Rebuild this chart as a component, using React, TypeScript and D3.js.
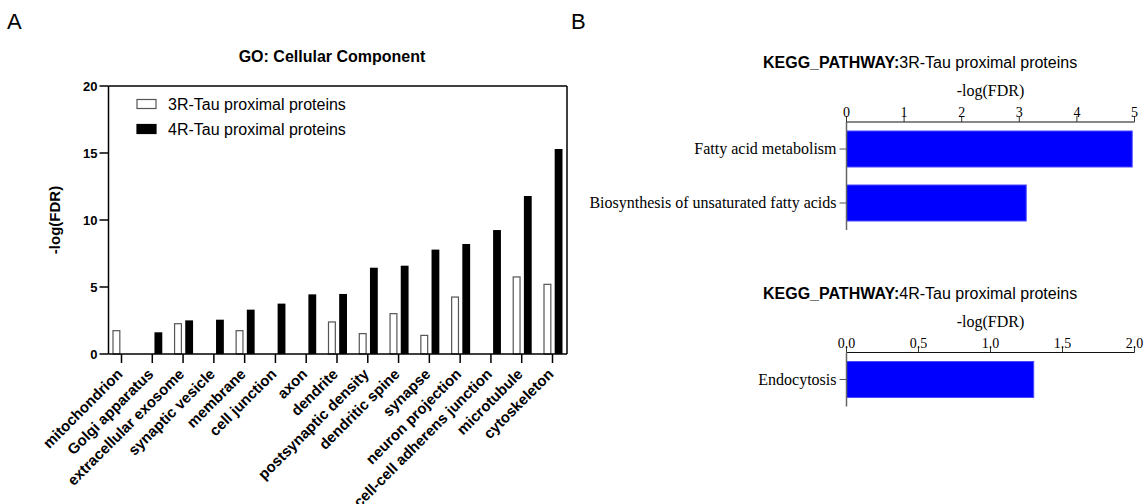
import React from "react";
import * as d3 from "d3";

const categories = [
  "mitochondrion",
  "Golgi apparatus",
  "extracellular exosome",
  "synaptic vesicle",
  "membrane",
  "cell junction",
  "axon",
  "dendrite",
  "postsynaptic density",
  "dendritic spine",
  "synapse",
  "neuron projection",
  "cell-cell adherens junction",
  "microtubule",
  "cytoskeleton",
];
const values3R: (number | null)[] = [1.74, null, 2.26, null, 1.74, null, null, 2.39, 1.52, 3.01, 1.39, 4.25, null, 5.75, 5.2];
const values4R: (number | null)[] = [null, 1.62, 2.51, 2.56, 3.31, 3.76, 4.45, 4.48, 6.44, 6.59, 7.79, 8.21, 9.25, 11.79, 15.3];
const seriesNames = ["3R-Tau proximal proteins", "4R-Tau proximal proteins"];
const goTicks = [0, 5, 10, 15, 20];

const kegg3RTerms = ["Fatty acid metabolism", "Biosynthesis of unsaturated fatty acids"];
const kegg3RValues = [4.96, 3.12];
const kegg3RTicks = [0, 1, 2, 3, 4, 5];
const kegg4RTerms = ["Endocytosis"];
const kegg4RValues = [1.3];
const kegg4RTicks = [0, 0.5, 1.0, 1.5, 2.0];

const SANS = "'Liberation Sans', Arial, Helvetica, sans-serif";
const SERIF = "'Liberation Serif', 'Times New Roman', Times, serif";

function KeggPanel({
  top,
  terms,
  values,
  ticks,
  domainMax,
  fmt,
  subtitle,
}: {
  top: number;
  terms: string[];
  values: number[];
  ticks: number[];
  domainMax: number;
  fmt: (v: number) => string;
  subtitle: string;
}) {
  const x = d3.scaleLinear().domain([0, domainMax]).range([846.5, 1134.5]);
  const step = 54;
  const pi = 1 / 3;
  const po = 1 / 6;
  const len = step * (terms.length - pi + 2 * po);
  const y = d3
    .scaleBand<string>()
    .domain(terms)
    .range([top, top + len])
    .paddingInner(pi)
    .paddingOuter(po);
  return (
    <g>
      <text x={763} y={top - 54} fontFamily={SANS} fontSize={16} fill="#000">
        <tspan fontWeight="bold">KEGG_PATHWAY:</tspan>
        <tspan>{subtitle}</tspan>
      </text>
      <text x={(x.range()[0] + x.range()[1]) / 2} y={top - 26} textAnchor="middle" fontFamily={SERIF} fontSize={16}>
        -log(FDR)
      </text>
      {values.map((v, i) => (
        <rect
          key={i}
          x={x(0)}
          y={y(terms[i])!}
          width={x(v) - x(0)}
          height={y.bandwidth()}
          fill="#0000ff"
          stroke="#4848ff"
          strokeWidth={1}
        />
      ))}
      <line x1={x.range()[0]} x2={x.range()[1]} y1={top} y2={top} stroke="#111" strokeWidth={1.2} />
      {ticks.map((t) => (
        <g key={t}>
          <line x1={x(t)} x2={x(t)} y1={top} y2={top - 6} stroke="#333" strokeWidth={1} />
          <text x={x(t)} y={top - 5} textAnchor="middle" fontFamily={SERIF} fontSize={14} fill="#000">
            {fmt(t)}
          </text>
        </g>
      ))}
      <line x1={x(0)} x2={x(0)} y1={top} y2={top + len} stroke="#666" strokeWidth={1.5} />
      {terms.map((t) => {
        const cy = y(t)! + y.bandwidth() / 2;
        return (
          <g key={t}>
            <line x1={x(0) - 7} x2={x(0)} y1={cy} y2={cy} stroke="#555" strokeWidth={1} />
            <text x={x(0) - 10} y={cy + 5} textAnchor="end" fontFamily={SERIF} fontSize={16} fill="#000">
              {t}
            </text>
          </g>
        );
      })}
    </g>
  );
}

export default function App() {
  const W = 1147;
  const H = 504;
  const left = 108.5;
  const right = 567;
  const topA = 86;
  const bottomA = 354;
  const yA = d3.scaleLinear().domain([0, 20]).range([bottomA, topA]);
  const xA = d3.scalePoint<string>().domain(categories).range([121.5, 552.5]);
  const sub = d3.scaleBand<string>().domain(["3R", "4R"]).range([-9, 10]).paddingInner(0.3);

  return (
    <svg width={W} height={H} style={{ position: "absolute", left: 0, top: 0, background: "#fff" }}>
      <rect width={W} height={H} fill="#fff" />
      <text x={7} y={29} fontFamily={SANS} fontSize={22} fill="#000">A</text>
      <text x={571} y={29} fontFamily={SANS} fontSize={22} fill="#000">B</text>

      {/* Panel A */}
      <text x={332} y={62} textAnchor="middle" fontFamily={SANS} fontWeight="bold" fontSize={16}>
        GO: Cellular Component
      </text>
      {categories.map((c, i) => {
        const cx = xA(c)!;
        const v3 = values3R[i];
        const v4 = values4R[i];
        return (
          <g key={c}>
            {v3 != null && (
              <rect
                x={cx + sub("3R")! + 0.5}
                y={yA(v3)}
                width={sub.bandwidth() - 1}
                height={yA(0) - yA(v3)}
                fill="#fff"
                stroke="#555"
                strokeWidth={1.2}
              />
            )}
            {v4 != null && (
              <rect
                x={cx + sub("4R")!}
                y={yA(v4)}
                width={sub.bandwidth()}
                height={yA(0) - yA(v4)}
                fill="#000"
              />
            )}
            <line x1={cx} x2={cx} y1={bottomA} y2={bottomA + 9} stroke="#000" strokeWidth={1.5} />
            <text
              transform={`translate(${cx + 2},${bottomA + 21}) rotate(-45)`}
              textAnchor="end"
              fontFamily={SANS}
              fontWeight="bold"
              fontSize={15}
              fill="#000"
            >
              {c}
            </text>
          </g>
        );
      })}
      {/* frame */}
      <line x1={left} x2={right} y1={bottomA} y2={bottomA} stroke="#000" strokeWidth={1.5} />
      <line x1={left} x2={right} y1={topA} y2={topA} stroke="#000" strokeWidth={1.5} />
      <line x1={left} x2={left} y1={topA} y2={bottomA} stroke="#000" strokeWidth={1.5} />
      <line x1={right} x2={right} y1={topA} y2={bottomA} stroke="#000" strokeWidth={1.5} />
      {goTicks.map((t) => (
        <g key={t}>
          <line x1={left - 9} x2={left} y1={yA(t)} y2={yA(t)} stroke="#000" strokeWidth={1.5} />
          <text x={left - 11} y={yA(t) + 4.5} textAnchor="end" fontFamily={SANS} fontWeight="bold" fontSize={13}>
            {t}
          </text>
        </g>
      ))}
      <text
        transform={`translate(60,${(topA + bottomA) / 2}) rotate(-90)`}
        textAnchor="middle"
        fontFamily={SANS}
        fontWeight="bold"
        fontSize={15}
      >
        -log(FDR)
      </text>
      {/* legend */}
      {seriesNames.map((s, i) => (
        <g key={s}>
          <rect
            x={137}
            y={99.5 + i * 25}
            width={19}
            height={9}
            fill={i === 0 ? "#fff" : "#000"}
            stroke={i === 0 ? "#555" : "#000"}
            strokeWidth={1.2}
          />
          <text x={168} y={109.5 + i * 25} fontFamily={SANS} fontSize={16} fill="#000">
            {s}
          </text>
        </g>
      ))}

      {/* Panel B */}
      <KeggPanel
        top={122}
        terms={kegg3RTerms}
        values={kegg3RValues}
        ticks={kegg3RTicks}
        domainMax={5}
        fmt={d3.format("d")}
        subtitle="3R-Tau proximal proteins"
      />
      <KeggPanel
        top={352.5}
        terms={kegg4RTerms}
        values={kegg4RValues}
        ticks={kegg4RTicks}
        domainMax={2}
        fmt={d3.format(".1f")}
        subtitle="4R-Tau proximal proteins"
      />
    </svg>
  );
}
